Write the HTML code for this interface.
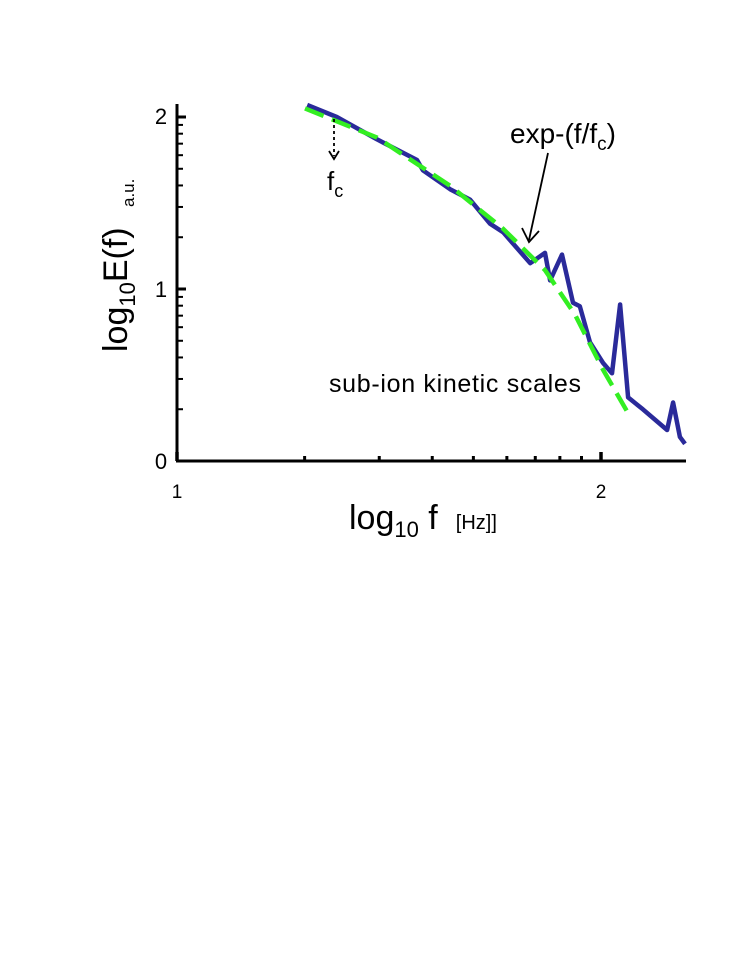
<!DOCTYPE html>
<html><head><meta charset="utf-8"><style>
html,body{margin:0;padding:0;background:#fff;}
svg{display:block;font-family:"Liberation Sans",sans-serif;}
</style></head><body>
<svg width="747" height="977" viewBox="0 0 747 977">
<g id="axes"></g>
<g id="marks"></g>
<text x="161" y="124" font-size="22" text-anchor="middle">2</text>
<text x="161" y="297" font-size="22" text-anchor="middle">1</text>
<text x="161" y="469" font-size="22" text-anchor="middle">0</text>
<text x="177" y="498" font-size="19" text-anchor="middle">1</text>
<text x="601" y="498" font-size="19" text-anchor="middle">2</text>
<text x="349" y="529" font-size="34">log<tspan font-size="22" dy="8">10</tspan><tspan dy="-8"> f</tspan><tspan font-size="20" dx="18">[Hz]]</tspan></text>
<text transform="translate(127,352) rotate(-90)" font-size="34">log<tspan font-size="22" dy="8">10</tspan><tspan dy="-8">E(f)</tspan></text>
<text transform="translate(134,207) rotate(-90)" font-size="17">a.u.</text>
<text x="329" y="392" font-size="25" textLength="252">sub-ion kinetic scales</text>
<text x="510" y="143" font-size="28">exp-(f/f<tspan font-size="19" dy="7">c</tspan><tspan dy="-7">)</tspan></text>
<text x="327" y="190" font-size="26">f<tspan font-size="18" dy="7">c</tspan></text>
<line x1="334" y1="119" x2="334" y2="156" stroke="#000" stroke-width="1.8" stroke-dasharray="3,3"/>
<path d="M329 151 L334 159 L339 151" fill="none" stroke="#000" stroke-width="1.8"/>
<line x1="548" y1="153" x2="529" y2="240" stroke="#000" stroke-width="1.8"/>
<path d="M522 228 L529 242 L539 231" fill="none" stroke="#000" stroke-width="1.8"/>
</svg>
<script>
const dataX = [1.307,1.377,1.472,1.566,1.580,1.644,1.691,1.738,1.769,1.833,1.868,1.880,1.908,1.934,1.950,1.974,2.005,2.026,2.045,2.064,2.099,2.156,2.170,2.186,2.198];
const dataY = [2.07,2.00,1.87,1.75,1.69,1.58,1.52,1.38,1.33,1.15,1.21,1.05,1.20,0.92,0.90,0.69,0.57,0.51,0.91,0.37,0.30,0.18,0.34,0.14,0.10];
const fitX = [1.302,1.472,1.644,1.769,1.868,1.939,2.005,2.061];
const fitY = [2.05,1.88,1.60,1.35,1.11,0.85,0.53,0.29];
const xMinorTicks = [1.301,1.477,1.602,1.699,1.778,1.845,1.903,1.954];
const yTicks = [0,1,2];
const NS='http://www.w3.org/2000/svg';
function sx(v){return 177+(v-1)*424;}
function sy(v){return 461-v*172;}
const axes=document.getElementById('axes'), marks=document.getElementById('marks');
function ln(p,x1,y1,x2,y2,w){const l=document.createElementNS(NS,'line');l.setAttribute('x1',x1);l.setAttribute('y1',y1);l.setAttribute('x2',x2);l.setAttribute('y2',y2);l.setAttribute('stroke','#000');l.setAttribute('stroke-width',w);p.appendChild(l);return l;}
let a=ln(axes,177,104,177,461,3);


a=ln(axes,176,461,686,461,3);


yTicks.forEach(v=>{const t=ln(axes,177,sy(v),186,sy(v),3);


if(v<2){xMinorTicks.forEach(m=>{const u=ln(axes,177,sy(v+m-1),183,sy(v+m-1),2);

});}});
[1,2].forEach(v=>{const t=ln(axes,sx(v),452,sx(v),461,3.5);

});
xMinorTicks.forEach(m=>{const t=ln(axes,sx(m),456,sx(m),461,3);

});
function poly(xs,ys){return xs.map((x,i)=>sx(x).toFixed(1)+','+sy(ys[i]).toFixed(1)).join(' ');}
const sp=document.createElementNS(NS,'polyline');
sp.setAttribute('points',poly(dataX,dataY));
sp.setAttribute('fill','none');sp.setAttribute('stroke','#2a2a9a');sp.setAttribute('stroke-width','4.5');sp.setAttribute('stroke-linejoin','round');


marks.appendChild(sp);
const fp=document.createElementNS(NS,'polyline');
fp.setAttribute('points',poly(fitX,fitY));
fp.setAttribute('fill','none');fp.setAttribute('stroke','#33ee22');fp.setAttribute('stroke-width','4.5');fp.setAttribute('stroke-dasharray','20,9');


marks.appendChild(fp);
</script>
</body></html>
